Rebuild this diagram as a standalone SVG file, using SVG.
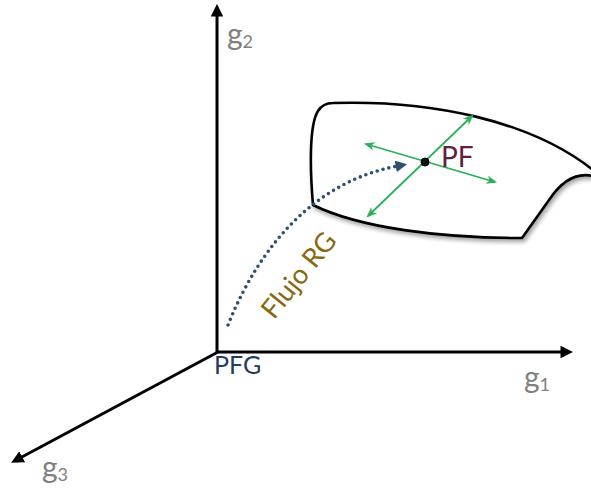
<svg xmlns="http://www.w3.org/2000/svg" width="591" height="493" viewBox="0 0 591 493">
  <style>
    .axis { stroke: #000; stroke-width: 3; fill: none; }
    .glabel { font-family: Lato, "Liberation Sans", sans-serif; fill: #808080; }
    .green { stroke: #2bb05a; stroke-width: 1.8; fill: none; }
    .flow { stroke: #2f4f70; stroke-width: 3.6; fill: none; stroke-linecap: round; stroke-dasharray: 0 6; }
  </style>
  <defs>
    <marker id="axisHead" viewBox="0 0 10 10" refX="2" refY="5" markerWidth="4.2" markerHeight="4.2" orient="auto" markerUnits="strokeWidth">
      <path d="M0,0 L10,5 L0,10 Z" fill="#000"/>
    </marker>
    <marker id="greenHead" viewBox="0 0 10 10" refX="8" refY="5" markerWidth="6" markerHeight="6" orient="auto-start-reverse" markerUnits="strokeWidth">
      <path d="M0,1 L10,5 L0,9 L3,5 Z" fill="#2bb05a"/>
    </marker>
    <marker id="flowHead" viewBox="0 0 10 10" refX="2" refY="5" markerWidth="3.2" markerHeight="3.2" orient="auto" markerUnits="strokeWidth">
      <path d="M0,0 L10,5 L0,10 Z" fill="#2f4f70"/>
    </marker>
    <filter id="shadow" x="-10%" y="-10%" width="130%" height="140%">
      <feGaussianBlur in="SourceAlpha" stdDeviation="2"/>
      <feOffset dx="2" dy="3" result="b"/>
      <feComponentTransfer><feFuncA type="linear" slope="0.35"/></feComponentTransfer>
      <feMerge><feMergeNode/><feMergeNode in="SourceGraphic"/></feMerge>
    </filter>
  </defs>

  <g id="surface" filter="url(#shadow)">
    <path d="M333,103 C430,100 530,120 593,170 L593,176 C575,172 561,182 549,200 L522,238 C440,238 360,228 313,205 C310,170 309,125 318,111 Q323,103 333,103 Z" fill="#fff" stroke="#000" stroke-width="2.6" stroke-linejoin="round"/>
  </g>

  <g id="axes">
    <line id="axis-g2" class="axis" x1="217" y1="353" x2="217" y2="14" marker-end="url(#axisHead)"/>
    <line id="axis-g1" class="axis" x1="216" y1="352" x2="563" y2="352" marker-end="url(#axisHead)"/>
    <line id="axis-g3" class="axis" x1="218" y1="352" x2="20" y2="458" marker-end="url(#axisHead)"/>
  </g>

  <g id="connectors">
    <line class="green" x1="368" y1="216" x2="472" y2="116" marker-start="url(#greenHead)" marker-end="url(#greenHead)"/>
    <line class="green" x1="366" y1="144" x2="495" y2="182" marker-start="url(#greenHead)" marker-end="url(#greenHead)"/>
    <path id="flow" class="flow" d="M228,325 C262,240 320,180 398,166" marker-end="url(#flowHead)"/>
  </g>

  <g id="fixed-point">
    <circle cx="425" cy="162" r="4" fill="#111" stroke="#000" stroke-width="1"/>
    <text x="441" y="167" font-family="Lato, 'Liberation Sans', sans-serif" font-size="28" fill="#5b2340">PF</text>
  </g>

  <g id="flow-label">
    <text transform="translate(306,281) rotate(-51)" text-anchor="middle" font-family="Lato, 'Liberation Sans', sans-serif" font-size="27" fill="#86680f">Flujo RG</text>
  </g>

  <g id="pfg">
    <text x="214" y="374" font-family="Lato, 'Liberation Sans', sans-serif" font-size="25" fill="#1f3d5c">PFG</text>
  </g>

  <g id="label-g2"><text class="glabel" x="227" y="45" font-size="30">g<tspan font-size="18" dy="3">2</tspan></text></g>
  <g id="label-g1"><text class="glabel" x="524" y="388" font-size="30">g<tspan font-size="18" dy="3">1</tspan></text></g>
  <g id="label-g3"><text class="glabel" x="42" y="478" font-size="30">g<tspan font-size="18" dy="3">3</tspan></text></g>
</svg>
